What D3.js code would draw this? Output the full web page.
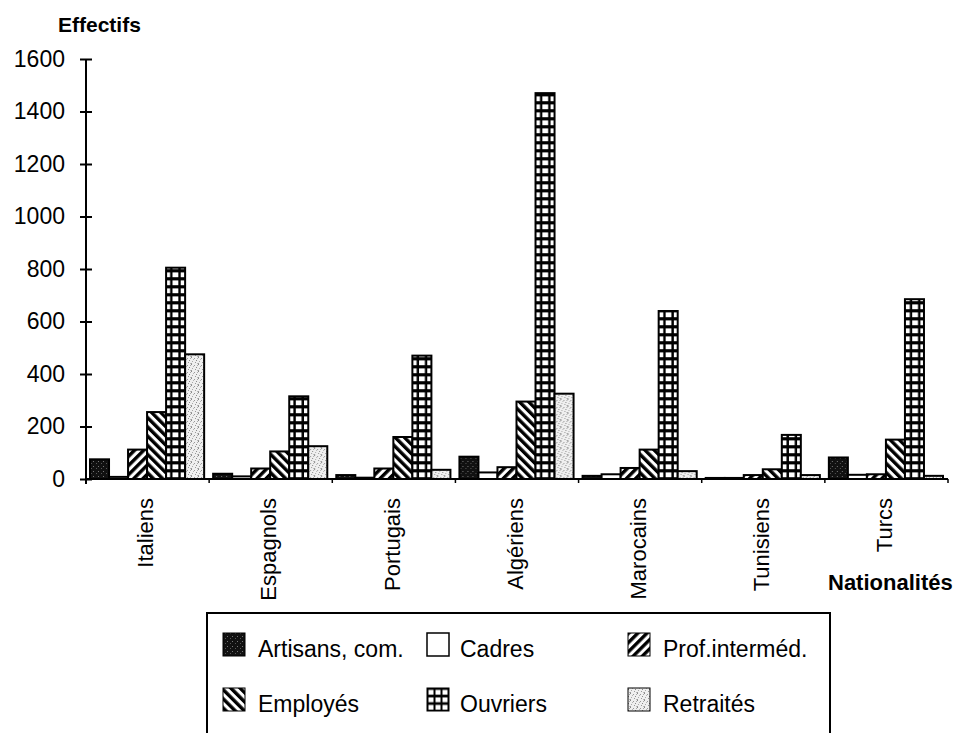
<!DOCTYPE html>
<html>
<head>
<meta charset="utf-8">
<script src="https://cdn.jsdelivr.net/npm/d3@7"></script>
<style>
  html, body { margin: 0; padding: 0; background: #fff; }
  svg { display: block; font-family: "Liberation Sans", Arial, Helvetica, sans-serif; }
</style>
</head>
<body>
<script>
// ---- data ----
const categories = ["Italiens", "Espagnols", "Portugais", "Algériens", "Marocains", "Tunisiens", "Turcs"];
const seriesNames = ["Artisans, com.", "Cadres", "Prof.interméd.", "Employés", "Ouvriers", "Retraités"];
const artisans  = [75, 20, 15, 85, 12, 4, 82];
const cadres    = [8, 10, 5, 25, 18, 4, 16];
const profInter = [112, 40, 40, 45, 42, 15, 18];
const employes  = [255, 105, 160, 295, 112, 37, 150];
const ouvriers  = [805, 315, 470, 1470, 640, 168, 685];
const retraites = [475, 125, 35, 325, 30, 15, 12];
const yTicks = [0, 200, 400, 600, 800, 1000, 1200, 1400, 1600];
const seriesValues = [artisans, cadres, profInter, employes, ouvriers, retraites];

const W = 956, H = 733;
const svg = d3.select("body").append("svg").attr("width", W).attr("height", H);
const defs = svg.append("defs");

// ---- scales ----
const x0 = d3.scaleBand().domain(categories).range([86, 948]);
const x1 = d3.scaleBand().domain(seriesNames).range([4, x0.bandwidth() - 5]);
const y = d3.scaleLinear().domain([0, 1600]).range([479, 59]);

// ---- patterns ----
// Artisans: black with sparse grey specks
{
  const p = defs.append("pattern").attr("id", "p0").attr("patternUnits", "userSpaceOnUse")
    .attr("width", 5).attr("height", 5);
  p.append("rect").attr("width", 5).attr("height", 5).attr("fill", "#111");
  p.append("rect").attr("x", 2).attr("y", 1).attr("width", 1).attr("height", 1).attr("fill", "#777");
  p.append("rect").attr("x", 0).attr("y", 3).attr("width", 1).attr("height", 1).attr("fill", "#555");
}
// Prof.interméd: "///" stripes
{
  const p = defs.append("pattern").attr("id", "p2").attr("patternUnits", "userSpaceOnUse")
    .attr("width", 6.5).attr("height", 6.5).attr("patternTransform", "rotate(45)");
  p.append("rect").attr("width", 6.5).attr("height", 6.5).attr("fill", "#fff");
  p.append("rect").attr("width", 3.4).attr("height", 6.5).attr("fill", "#000");
}
// Employés: "\\\" stripes
{
  const p = defs.append("pattern").attr("id", "p3").attr("patternUnits", "userSpaceOnUse")
    .attr("width", 6.5).attr("height", 6.5).attr("patternTransform", "rotate(-45)");
  p.append("rect").attr("width", 6.5).attr("height", 6.5).attr("fill", "#fff");
  p.append("rect").attr("width", 3.4).attr("height", 6.5).attr("fill", "#000");
}
// Retraités: light scattered stipple
{
  const p = defs.append("pattern").attr("id", "p5").attr("patternUnits", "userSpaceOnUse")
    .attr("width", 7).attr("height", 7);
  p.append("rect").attr("width", 7).attr("height", 7).attr("fill", "#efefef");
  [[0,0,"#888"],[3,1,"#999"],[5,3,"#8a8a8a"],[1,4,"#aaa"],[4,5,"#999"],[6,6,"#bbb"],[2,2,"#b5b5b5"],[6,1,"#aaa"],[0,6,"#999"]]
    .forEach(([dx, dy, c]) => p.append("rect").attr("x", dx).attr("y", dy)
      .attr("width", 1).attr("height", 1).attr("fill", c));
}
// Ouvriers: grid (one pattern per position so cells line up with bar edges)
function gridPattern(id, px, py, cw, ch, ww, wh) {
  const p = defs.append("pattern").attr("id", id).attr("patternUnits", "userSpaceOnUse")
    .attr("x", px).attr("y", py).attr("width", cw).attr("height", ch);
  p.append("rect").attr("width", cw).attr("height", ch).attr("fill", "#000");
  p.append("rect").attr("x", 0).attr("y", 1.4).attr("width", ww).attr("height", wh).attr("fill", "#fff");
  return "url(#" + id + ")";
}
function fillFor(si, ci, bx) {
  if (si === 0) return "url(#p0)";
  if (si === 1) return "#fff";
  if (si === 2) return "url(#p2)";
  if (si === 3) return "url(#p3)";
  if (si === 4) return gridPattern("g" + ci, bx + 2.4, y(0), 8.2, 8, 5.8, 4.8);
  return "url(#p5)";
}

// ---- bars ----
const groups = svg.append("g").selectAll("g").data(categories).join("g")
  .attr("transform", d => `translate(${x0(d)},0)`);
groups.each(function (cat, ci) {
  const g = d3.select(this);
  seriesNames.forEach((s, si) => {
    const v = seriesValues[si][ci];
    const bx = x0(cat) + x1(s);
    g.append("rect")
      .attr("x", x1(s))
      .attr("y", y(v))
      .attr("width", x1.bandwidth())
      .attr("height", y(0) - y(v))
      .attr("fill", fillFor(si, ci, bx))
      .attr("stroke", "#000")
      .attr("stroke-width", 2);
  });
});

// ---- y axis ----
const yAxis = svg.append("g").attr("transform", "translate(86,0)")
  .call(d3.axisLeft(y).tickValues(yTicks).tickSize(6).tickPadding(15).tickFormat(d3.format("d")));
yAxis.select(".domain").attr("d", `M0,${y(1600)}V${y(0) + 5}`).attr("stroke-width", 2);
yAxis.selectAll(".tick line").attr("x1", 6).attr("stroke-width", 2);
yAxis.selectAll(".tick text").attr("font-size", 23).attr("fill", "#000")
  .attr("font-family", "'Liberation Sans', Arial, sans-serif");

// ---- x axis ----
const xAxis = svg.append("g").attr("transform", `translate(0,${y(0)})`)
  .call(d3.axisBottom(x0).tickSize(0).tickPadding(0));
xAxis.select(".domain").attr("d", "M86,0H948").attr("stroke-width", 2);
xAxis.selectAll(".tick text")
  .attr("font-size", 22).attr("fill", "#000")
  .attr("font-family", "'Liberation Sans', Arial, sans-serif")
  .attr("text-anchor", "end")
  .attr("transform", "rotate(-90)")
  .attr("x", -19).attr("y", -2).attr("dy", "0.35em");
// group boundary ticks
const bounds = categories.map(c => x0(c)).concat([x0.range()[1]]);
xAxis.selectAll("line.bound").data(bounds.slice(1)).join("line")
  .attr("class", "bound")
  .attr("x1", d => d).attr("x2", d => d).attr("y1", 0).attr("y2", 4)
  .attr("stroke", "#000").attr("stroke-width", 1.5);

// ---- titles ----
svg.append("text").attr("x", 58).attr("y", 32).attr("font-size", 21).attr("font-weight", "bold")
  .text("Effectifs");
svg.append("text").attr("x", 828).attr("y", 590).attr("font-size", 22).attr("font-weight", "bold")
  .text("Nationalités");

// ---- legend ----
const lg = svg.append("g");
lg.append("rect").attr("x", 207).attr("y", 613).attr("width", 623).attr("height", 130)
  .attr("fill", "#fff").attr("stroke", "#000").attr("stroke-width", 2);
const colSw = [223, 427, 628], colTx = [258, 460, 663], rowTop = [633, 688];
seriesNames.forEach((s, si) => {
  const c = si % 3, r = Math.floor(si / 3);
  const sx = colSw[c], sy = rowTop[r];
  let fill;
  if (si === 4) fill = gridPattern("gl", sx + 1.5, sy + 0.5, 7, 7.5, 5, 4.8);
  else fill = fillFor(si, -1, sx);
  lg.append("rect").attr("x", sx).attr("y", sy).attr("width", 22).attr("height", 23)
    .attr("fill", fill).attr("stroke", "#000").attr("stroke-width", si === 1 ? 1.5 : 1);
  lg.append("text").attr("x", colTx[c]).attr("y", sy + 24).attr("font-size", 23).text(s);
});
</script>
</body>
</html>
